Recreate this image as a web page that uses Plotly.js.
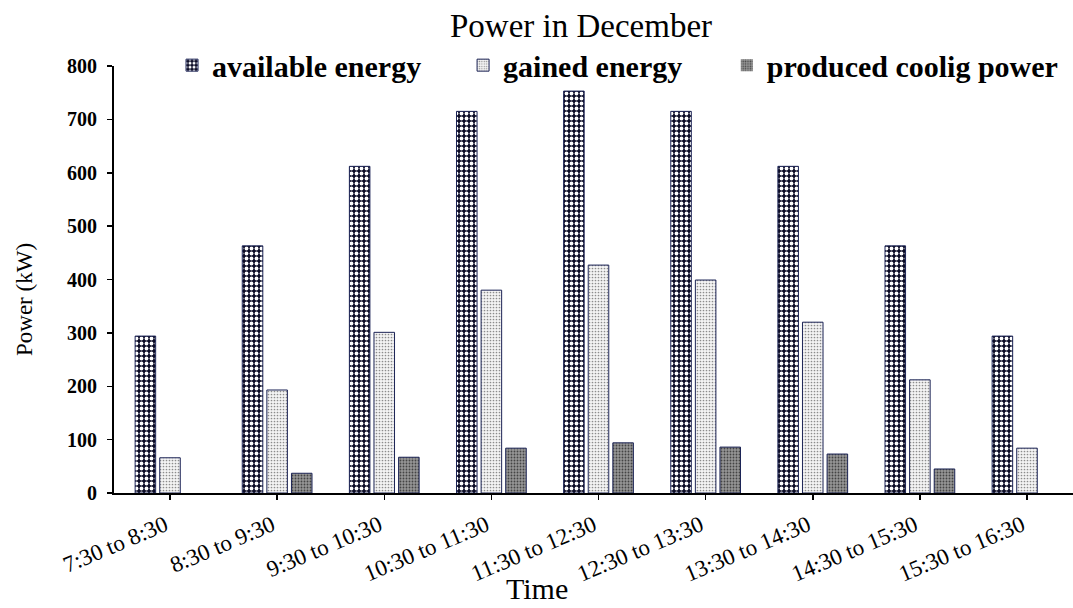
<!DOCTYPE html>
<html>
<head>
<meta charset="utf-8">
<script src="https://cdn.plot.ly/plotly-3.0.1.min.js"></script>
<style>
  html, body { margin: 0; padding: 0; background: #ffffff; }
  #chart { width: 1073px; height: 608px; }
</style>
</head>
<body>
<div id="chart"></div>
<script>
// Hourly time slots for the December day
const timeSlots = [
  "7:30 to 8:30", "8:30 to 9:30", "9:30 to 10:30", "10:30 to 11:30",
  "11:30 to 12:30", "12:30 to 13:30", "13:30 to 14:30", "14:30 to 15:30",
  "15:30 to 16:30"
];

// Power values in kW
const availableEnergy = [294, 463, 612, 715, 753, 715, 612, 463, 294];
const gainedEnergy    = [66, 193, 301, 380, 427, 399, 320, 212, 84];
const coolingPower    = [0, 37, 67, 84, 94, 86, 73, 45, 0];

const seriesNames = ["available energy", "gained energy", "produced coolig power"];
const yTicks = [0, 100, 200, 300, 400, 500, 600, 700, 800];

const FONT = "Liberation Serif, Times New Roman, serif";

// Outline only where a bar actually has height
function outlineFor(values) {
  return { color: "#1c2456", width: values.map(v => (v > 0 ? 1 : 0)) };
}

const traces = [
  {
    type: "bar", name: seriesNames[0], x: timeSlots, y: availableEnergy,
    legend: "legend",
    marker: {
      color: "#0c0c26", line: outlineFor(availableEnergy),
      pattern: { shape: ".", bgcolor: "#0c0c26", fgcolor: "#ffffff", size: 5, solidity: 0.45 }
    }
  },
  {
    type: "bar", name: seriesNames[1], x: timeSlots, y: gainedEnergy,
    legend: "legend2",
    marker: {
      color: "#f2f2f2", line: outlineFor(gainedEnergy),
      pattern: { shape: ".", bgcolor: "#f4f4f4", fgcolor: "#8c8c8c", size: 3, solidity: 0.25 }
    }
  },
  {
    type: "bar", name: seriesNames[2], x: timeSlots, y: coolingPower,
    legend: "legend3",
    marker: {
      color: "#8a8a8a", line: outlineFor(coolingPower),
      pattern: { shape: ".", bgcolor: "#969696", fgcolor: "#444444", size: 3, solidity: 0.3 }
    }
  }
];

const legendBase = {
  visible: true,
  orientation: "h", xanchor: "left", y: 1.002, yanchor: "middle",
  bgcolor: "rgba(0,0,0,0)", borderwidth: 0,
  font: { family: FONT, size: 30, color: "#000", weight: "bold" }
};

const layout = {
  width: 1073, height: 608,
  margin: { l: 114, r: 0, t: 66, b: 115 },
  paper_bgcolor: "#ffffff", plot_bgcolor: "#ffffff",
  font: { family: FONT, color: "#000" },
  showlegend: true,
  barmode: "group", bargap: 0.311, bargroupgap: 0.165,
  title: {
    text: "Power in December",
    xref: "container", x: 0.5415, xanchor: "center",
    yref: "container", y: 0.958, yanchor: "middle",
    font: { family: FONT, size: 33, color: "#000" }
  },
  legend:  Object.assign({}, legendBase, { x: 0.0605 }),
  legend2: Object.assign({}, legendBase, { x: 0.364 }),
  legend3: Object.assign({}, legendBase, { x: 0.639 }),
  xaxis: {
    type: "category", range: [-0.5228, 8.4294],
    showline: true, linecolor: "#000", linewidth: 2,
    ticks: "outside", ticklen: 5, tickwidth: 1.5, tickcolor: "#000",
    tickangle: -23, ticklabelshift: -5, ticklabelstandoff: 3,
    showgrid: false, zeroline: false,
    tickfont: { family: FONT, size: 23, color: "#000" }
  },
  yaxis: {
    range: [0, 800], tickvals: yTicks,
    showline: true, linecolor: "#000", linewidth: 2,
    ticks: "outside", ticklen: 5, tickwidth: 1.5, tickcolor: "#000",
    ticklabelstandoff: 6,
    showgrid: false, zeroline: false,
    tickfont: { family: FONT, size: 20, color: "#000", weight: "bold" }
  },
  annotations: [
    {
      text: "Time", xref: "paper", yref: "paper", x: 0.441, y: -0.2668,
      xanchor: "center", yanchor: "bottom", showarrow: false,
      font: { family: FONT, size: 30, color: "#000" }
    },
    {
      text: "Power (kW)", xref: "paper", yref: "paper", x: -0.0928, y: 0.452,
      xanchor: "center", yanchor: "middle", showarrow: false, textangle: -90,
      font: { family: FONT, size: 23, color: "#000" }
    }
  ]
};

Plotly.newPlot("chart", traces, layout, { displayModeBar: false, staticPlot: true });
</script>
</body>
</html>
